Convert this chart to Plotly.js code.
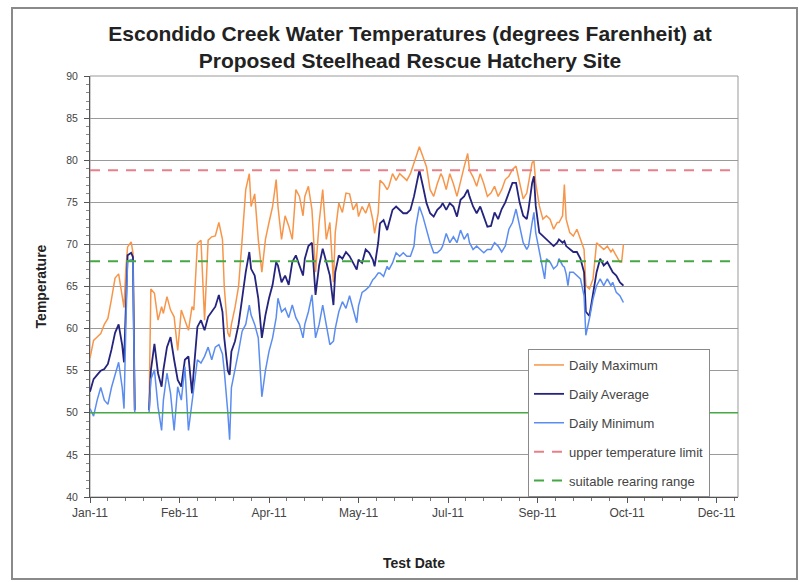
<!DOCTYPE html>
<html>
<head>
<meta charset="utf-8">
<script src="https://cdn.plot.ly/plotly-3.0.1.min.js"></script>
<style>
  html, body { margin: 0; padding: 0; background: #ffffff; }
  #chart { width: 807px; height: 582px; }
</style>
</head>
<body>
<div id="chart"></div>
<script>
// ---- data ----
const dates = [
  '2011-01-01','2011-01-03','2011-01-05','2011-01-07','2011-01-09','2011-01-11','2011-01-13','2011-01-15','2011-01-17','2011-01-19',
  '2011-01-20','2011-01-21','2011-01-22','2011-01-24','2011-01-25','2011-01-26','2011-01-30','2011-02-03','2011-02-04','2011-02-06',
  '2011-02-08','2011-02-10','2011-02-11','2011-02-13','2011-02-15','2011-02-17','2011-02-19','2011-02-21','2011-02-23','2011-02-25',
  '2011-02-27','2011-02-28','2011-03-02','2011-03-04','2011-03-06','2011-03-08','2011-03-10','2011-03-12','2011-03-14','2011-03-16',
  '2011-03-17','2011-03-19','2011-03-20','2011-03-21','2011-03-23','2011-03-25','2011-03-27','2011-03-29','2011-03-31','2011-04-01',
  '2011-04-03','2011-04-05','2011-04-07','2011-04-09','2011-04-11','2011-04-13','2011-04-15','2011-04-16','2011-04-18','2011-04-20',
  '2011-04-22','2011-04-24','2011-04-26','2011-04-28','2011-04-30','2011-05-01','2011-05-03','2011-05-05','2011-05-07','2011-05-09',
  '2011-05-11','2011-05-13','2011-05-15','2011-05-17','2011-05-18','2011-05-20','2011-05-22','2011-05-24','2011-05-26','2011-05-28',
  '2011-05-30','2011-05-31','2011-06-02','2011-06-04','2011-06-06','2011-06-08','2011-06-09','2011-06-11','2011-06-12','2011-06-14',
  '2011-06-16','2011-06-17','2011-06-19','2011-06-21','2011-06-23','2011-06-25','2011-06-27','2011-06-29','2011-07-01','2011-07-02',
  '2011-07-04','2011-07-06','2011-07-08','2011-07-10','2011-07-12','2011-07-14','2011-07-16','2011-07-17','2011-07-19','2011-07-21',
  '2011-07-23','2011-07-25','2011-07-27','2011-07-29','2011-07-31','2011-08-01','2011-08-03','2011-08-05','2011-08-07','2011-08-09',
  '2011-08-11','2011-08-13','2011-08-15','2011-08-17','2011-08-19','2011-08-21','2011-08-23','2011-08-25','2011-08-27','2011-08-29',
  '2011-08-31','2011-09-02','2011-09-03','2011-09-05','2011-09-06','2011-09-07','2011-09-09','2011-09-11','2011-09-12','2011-09-13',
  '2011-09-15','2011-09-17','2011-09-19','2011-09-20','2011-09-22','2011-09-23','2011-09-24','2011-09-25','2011-09-26','2011-09-28',
  '2011-09-30','2011-10-02','2011-10-04','2011-10-05','2011-10-07','2011-10-09','2011-10-11','2011-10-13','2011-10-15','2011-10-17',
  '2011-10-19','2011-10-20','2011-10-22','2011-10-24','2011-10-25','2011-10-26'
];
const dailyMax = [
  56.5,58.6,59.0,59.4,60.5,61.2,63.5,66.0,66.5,64.0,
  62.5,67.0,69.7,70.3,69.0,50.5,null,50.5,64.7,64.2,
  61.0,62.6,61.8,63.8,62.2,61.4,57.4,62.2,61.0,59.8,
  62.6,62.2,70.1,70.5,61.0,70.5,70.9,71.0,72.6,70.6,
  65.0,59.5,59.0,60.5,62.5,65.0,70.6,76.5,78.4,74.5,
  76.0,70.6,66.7,70.6,72.6,74.5,77.7,74.5,70.6,73.4,
  72.2,70.6,76.5,75.7,73.4,75.7,76.9,74.1,66.7,72.6,
  76.5,70.6,72.6,65.5,71.4,74.9,73.8,76.1,76.0,74.1,
  74.9,73.3,74.5,73.7,74.9,72.9,71.3,73.7,77.6,77.2,
  76.5,76.9,78.4,77.6,78.4,78.0,77.6,78.4,79.6,80.4,
  81.6,80.4,79.2,76.5,75.7,77.2,78.4,78.0,76.5,78.4,
  77.2,75.7,77.6,79.2,80.8,78.8,78.0,76.9,78.4,77.2,
  75.7,76.1,76.9,75.7,76.5,77.7,78.1,78.9,79.3,77.3,
  75.4,76.1,77.3,79.7,79.9,77.3,74.6,73.0,73.2,73.4,
  73.0,71.8,72.6,72.6,73.4,77.1,73.0,72.0,71.4,71.0,
  71.8,70.6,69.4,65.1,64.7,65.9,70.2,69.8,69.4,69.8,
  69.1,69.4,68.7,67.9,67.9,70.0
];
const dailyAvg = [
  52.5,54.0,54.5,55.0,55.2,55.8,57.5,59.5,60.5,58.0,
  56.0,64.0,68.7,69.0,68.5,50.3,null,50.3,55.0,58.2,
  54.7,53.1,55.1,57.8,59.0,56.3,53.9,53.1,56.3,56.7,
  52.3,55.1,60.2,61.0,59.8,61.4,62.0,62.6,64.0,62.0,
  58.9,55.0,54.5,57.3,58.5,60.5,63.6,66.7,69.1,67.1,
  66.3,63.6,58.9,61.6,63.6,65.2,67.9,67.5,65.5,66.3,
  65.2,67.9,68.7,67.5,66.3,68.3,69.8,70.2,64.0,67.5,
  69.5,67.9,66.3,62.8,66.7,68.7,68.3,69.1,68.6,67.8,
  67.0,68.2,67.8,69.4,69.0,68.2,67.4,70.2,72.5,72.9,
  71.7,72.5,74.1,74.5,74.1,73.7,73.7,74.1,75.7,76.9,
  78.8,76.9,74.9,73.7,73.3,74.1,74.5,74.9,74.1,74.9,
  74.5,73.3,75.3,75.7,76.5,75.7,74.5,73.7,74.5,73.3,
  72.1,72.2,73.8,73.0,74.2,75.0,76.1,77.3,77.3,75.0,
  73.4,73.0,74.2,77.3,78.1,74.6,71.4,71.0,70.8,70.6,
  70.2,69.8,70.2,70.6,70.2,70.4,69.8,69.6,69.4,69.1,
  69.1,68.3,66.7,62.0,61.5,63.9,66.7,68.3,67.5,67.9,
  67.1,66.7,66.3,65.5,65.3,65.1
];
const dailyMin = [
  50.5,49.6,51.5,53.0,51.5,51.0,53.0,54.5,56.0,53.0,
  50.5,60.0,68.0,68.2,68.0,50.0,null,50.0,54.0,55.1,
  50.7,47.9,51.5,54.7,52.3,47.9,53.1,51.5,55.5,47.9,
  51.5,52.7,56.3,55.9,56.7,57.8,56.3,57.8,58.1,57.0,
  55.0,50.0,46.8,53.0,55.0,57.3,59.7,60.5,62.8,61.6,
  60.5,58.9,51.9,55.0,57.3,58.9,61.3,63.6,62.0,62.4,
  61.3,62.8,61.3,60.5,58.9,60.5,62.0,64.0,58.9,60.5,
  62.8,60.5,58.1,58.5,60.0,62.0,63.2,62.4,63.9,62.3,
  60.7,62.7,64.3,64.6,65.0,65.8,66.0,66.6,66.6,66.2,
  67.4,67.0,67.8,69.0,68.6,69.0,68.6,68.6,69.8,72.1,
  74.5,73.3,71.7,70.2,69.0,69.0,69.4,69.8,71.3,70.2,
  70.9,70.2,71.7,70.6,71.3,70.2,69.4,69.8,69.4,69.0,
  69.4,69.4,70.2,69.8,69.1,69.8,71.8,72.6,74.2,72.2,
  70.2,69.4,69.8,72.6,73.8,71.4,69.1,66.7,65.9,68.3,
  67.9,67.1,67.5,68.3,67.5,67.3,66.5,65.1,66.7,66.7,
  66.3,65.9,63.9,59.2,61.2,63.5,65.1,65.9,65.1,65.9,
  65.1,65.5,64.3,63.9,63.5,63.1
];
const refDates = ['2011-01-01', '2011-12-29'];
const upperLimit = [78.8, 78.8];
const rearingHigh = [68, 68];
const rearingLow = [50, 50];
const tickDates = ['2011-01-01','2011-02-20','2011-04-11','2011-05-31','2011-07-20','2011-09-08','2011-10-28','2011-12-17'];
const tickLabels = ['Jan-11','Feb-11','Apr-11','May-11','Jul-11','Sep-11','Oct-11','Dec-11'];
const yTicks = [40,45,50,55,60,65,70,75,80,85,90];

const FONT = 'Arial, "Liberation Sans", sans-serif';

const traces = [
  { x: dates, y: dailyMax, name: 'Daily Maximum', type: 'scatter', mode: 'lines',
    line: { color: '#F7964A', width: 1.5 }, connectgaps: false, legendgroup: 'a' },
  { x: dates, y: dailyAvg, name: 'Daily Average', type: 'scatter', mode: 'lines',
    line: { color: '#24247E', width: 1.8 }, connectgaps: false, legendgroup: 'b' },
  { x: dates, y: dailyMin, name: 'Daily Minimum', type: 'scatter', mode: 'lines',
    line: { color: '#5B8DF0', width: 1.5 }, connectgaps: false, legendgroup: 'c' },
  { x: refDates, y: upperLimit, name: 'upper temperature limit', type: 'scatter', mode: 'lines',
    line: { color: '#E8808A', width: 2, dash: '10px,8px' }, legendgroup: 'd' },
  { x: refDates, y: rearingHigh, name: 'suitable rearing range', type: 'scatter', mode: 'lines',
    line: { color: '#45A845', width: 2, dash: '10px,8px' }, legendgroup: 'e' },
  { x: refDates, y: rearingLow, name: 'suitable rearing range (low)', type: 'scatter', mode: 'lines',
    line: { color: '#45A845', width: 1.5 }, showlegend: false, legendgroup: 'f' }
];

const L = 90, R = 738, T = 76, B = 497;
const pw = R - L, ph = B - T;
const px = v => (v - L) / pw;
const py = v => (B - v) / ph;

const layout = {
  width: 807, height: 582,
  margin: { l: L, r: 807 - R, t: T, b: 582 - B, pad: 0 },
  paper_bgcolor: '#ffffff', plot_bgcolor: '#ffffff',
  font: { family: FONT, color: '#333333', size: 10 },
  title: {
    text: 'Escondido Creek Water Temperatures (degrees Farenheit) at<br>Proposed Steelhead Rescue Hatchery Site',
    font: { family: FONT, size: 21, color: '#222222', weight: 'bold' },
    xref: 'container', x: 0.508, xanchor: 'center',
    yref: 'container', y: 1 - 41 / 582, yanchor: 'middle'
  },
  xaxis: {
    type: 'date',
    range: [refDates[0], refDates[1]],
    tickmode: 'array', tickvals: tickDates, ticktext: tickLabels,
    showgrid: false, zeroline: false,
    showline: true, linecolor: '#555555', linewidth: 1,
    ticks: 'outside', ticklen: 5, tickcolor: '#555555',
    minor: { dtick: 864000000, tick0: '2011-01-01', ticks: 'outside', ticklen: 3, tickcolor: '#777777', showgrid: false },
    tickfont: { family: FONT, size: 12, color: '#444444' },
    title: { text: 'Test Date', font: { family: FONT, size: 14, color: '#222222', weight: 'bold' }, standoff: 38 },
    fixedrange: true
  },
  yaxis: {
    range: [40, 90],
    tickmode: 'array', tickvals: yTicks,
    showgrid: true, gridcolor: '#9a9a9a', gridwidth: 1,
    zeroline: false,
    showline: true, linecolor: '#555555', linewidth: 1,
    ticks: 'outside', ticklen: 5, tickcolor: '#555555',
    minor: { dtick: 1, ticks: 'outside', ticklen: 3, tickcolor: '#888888', showgrid: false },
    tickfont: { family: FONT, size: 10.5, color: '#444444' },
    ticklabelstandoff: 4,
    title: { text: 'Temperature', font: { family: FONT, size: 14, color: '#222222', weight: 'bold' }, standoff: 16 },
    fixedrange: true
  },
  showlegend: true,
  legend: {
    x: px(528), y: py(349), xanchor: 'left', yanchor: 'top',
    bgcolor: '#ffffff', bordercolor: '#8a8a8a', borderwidth: 1,
    font: { family: FONT, size: 13, color: '#444444' },
    tracegroupgap: 9, traceorder: 'grouped', itemwidth: 30
  },
  shapes: [
    { type: 'rect', xref: 'paper', yref: 'paper', x0: 0, x1: 1, y0: 0, y1: 1,
      line: { color: '#9a9a9a', width: 1 }, fillcolor: 'rgba(0,0,0,0)', layer: 'below' },
    { type: 'rect', xref: 'paper', yref: 'paper', x0: px(12), x1: px(797), y0: py(579), y1: py(8),
      line: { color: '#8a8a8a', width: 2 }, fillcolor: 'rgba(0,0,0,0)', layer: 'below' }
  ]
};

Plotly.newPlot('chart', traces, layout, { displayModeBar: false, staticPlot: true });
</script>
</body>
</html>
